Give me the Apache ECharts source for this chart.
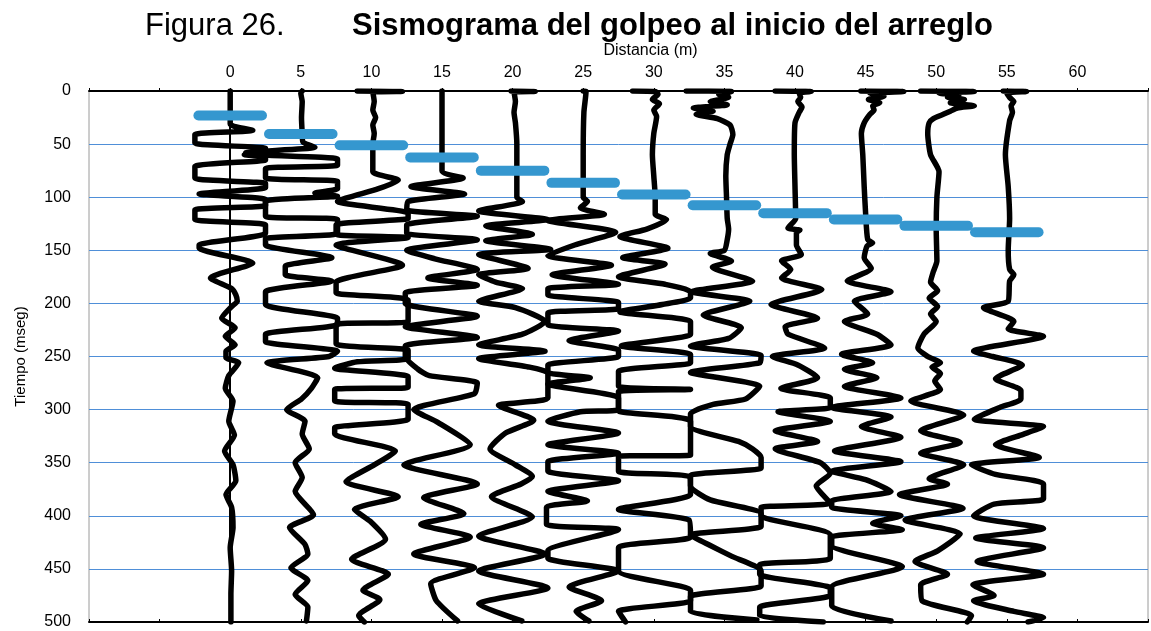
<!DOCTYPE html>
<html><head><meta charset="utf-8">
<script src="https://cdn.jsdelivr.net/npm/echarts@6/dist/echarts.min.js"></script>
<style>html,body{margin:0;padding:0;background:#fff}#c{width:1151px;height:631px}</style>
</head><body><div id="c"></div>
<script>
// Geophone positions (m) and first-break picks (ms)
const distances = [0, 5, 10, 15, 20, 25, 30, 35, 40, 45, 50, 55];
const pickTimes = [23, 40.5, 51, 62.5, 75, 86.5, 97.5, 107.5, 115, 121, 127, 133];
const timeTicks = [0, 50, 100, 150, 200, 250, 300, 350, 400, 450, 500];

// Each trace: [time (ms), amplitude offset (m) from its geophone position]
const tr0 = [[0,0],[31,0],[37,1.6],[41,-2.5],[49,-2.5],[54,2.5],[58,2.5],[60,1.0],[62,2.5],[65,2.5],[71,-2.5],[82,-2.5],[87,2.5],[91,2.5],[97,-2.2],[102,2.5],[108,2.5],[112,-2.5],[121,-2.5],[126,2.5],[134,2.5],[145,-2.2],[148,-2.2],[162,1.6],[176,-1.4],[186,0.1],[192,0.4],[198,0.5],[203,0.1],[214,-0.6],[223,0.35],[231,-0.35],[239,0.35],[245,-0.3],[251,-0.3],[256,0.6],[268,-0.1],[280,-0.35],[292,0.2],[311,-0.1],[324,0.3],[339,-0.4],[352,0.2],[367,0.4],[380,-0.3],[392,0.1],[411,0.2],[430,0],[452,0.1],[474,0.05],[500,0.05]];
const tr5 = [[0,0.1],[2,0],[10,0.1],[25,0.05],[40,0.1],[48,0.15],[53,1.0],[58,-3.9],[60,-3.0],[64,2.6],[70,2.6],[73,-2.5],[82,-2.5],[85,2.6],[92,2.6],[96,1.0],[99,2.6],[104,-2.5],[118,-2.5],[121,2.6],[134,2.6],[139,-2.5],[145,-2.5],[157,2.2],[165,-1.1],[173,-1.1],[179,2.2],[189,-2.5],[201,-2.5],[214,2.6],[220,2.6],[229,-2.5],[236,-2.5],[245,2.6],[250,2.0],[256,-2.4],[270,1.2],[280,0.75],[290,0.05],[300,-1.0],[311,0.3],[323,0.1],[337,0.6],[350,-0.4],[364,0.1],[377,-0.4],[399,0.9],[411,-0.8],[427,0.3],[436,0.5],[449,-0.7],[461,0.5],[474,-0.4],[486,0.5],[499,0.4]];
const tr10 = [[0,-1.0],[0.5,2.2],[1,0.1],[10,0.2],[18,0.1],[25,0.3],[32,0.1],[40,0.2],[50,0.1],[60,0.1],[76,0.1],[84,1.9],[92,0.5],[104,-2.4],[115,2.6],[120,2.6],[126,-2.5],[135,-2.5],[138,2.6],[145,-2.5],[164,2.2],[180,-2.5],[190,-2.5],[197,2.6],[217,2.6],[220,-2.5],[238,-2.5],[244,2.6],[252,2.6],[255,-1.0],[261,-2.6],[269,2.6],[279,2.6],[281,-2.6],[292,-2.6],[295,2.6],[309,2.6],[317,-2.6],[323,-2.6],[339,1.7],[352,0.2],[368,-1.8],[382,1.9],[394,-1.2],[405,-0.1],[422,1.0],[441,-1.4],[455,1.2],[470,-0.6],[479,0.6],[494,-0.9],[500,-0.5]];
const tr15 = [[0,0],[75,0],[82,1.5],[90,-2.2],[97,1.6],[104,-2.4],[112,-2.5],[118,2.5],[126,-2.5],[134,-2.5],[140,2.5],[150,-2.5],[158,-0.5],[168,2.5],[176,-1.0],[183,2.5],[190,-2.6],[200,-2.6],[212,2.5],[222,-2.6],[232,2.5],[240,-2.6],[250,-2.6],[262,-1.7],[268,-0.9],[275,2.5],[285,2.3],[300,-2.0],[312,-0.3],[333,2.0],[352,-2.7],[370,2.5],[383,-1.3],[398,1.55],[408,-1.5],[420,2.0],[436,-2.0],[449,2.3],[464,-0.8],[480,-0.4],[499,1.1]];
const tr20 = [[0,-0.1],[0.5,1.6],[1,0.1],[10,0.2],[20,0.1],[30,0.2],[50,0.3],[70,0.3],[90,0.3],[100,0.3],[104,0.7],[113,-2.4],[121,2.5],[127,-1.9],[135,1.4],[141,-1.9],[149,2.7],[154,-2.4],[167,1.1],[173,-2.4],[180,-1.2],[186,0.7],[198,-2.4],[204,0.2],[217,2.3],[229,0.7],[239,-2.4],[245,2.3],[252,-2.4],[260,1.2],[266,2.5],[289,2.5],[296,-1.0],[310,1.5],[322,-0.5],[337,-1.6],[352,0.2],[363,1.4],[370,0.6],[382,-1.5],[401,1.4],[419,-2.4],[436,2.3],[452,-2.4],[468,2.5],[483,-2.4],[499,0.65]];
const tr25 = [[0,0],[0.5,0.2],[20,0.05],[60,0],[100,0],[104,0.3],[110,-0.2],[116,1.5],[122,-2.5],[133,2.3],[145,-0.6],[155,-2.5],[164,2.0],[173,-2.2],[182,2.5],[186,-2.5],[192,-2.5],[199,2.5],[205,2.5],[209,-2.5],[220,-2.5],[226,2.5],[235,-1.0],[244,2.5],[250,2.5],[258,-2.5],[265,-2.5],[270,0.5],[276,-2.5],[289,2.5],[300,2.5],[302,-0.2],[311,-2.5],[322,2.5],[333,-2.5],[341,2.5],[349,-2.5],[358,-2.5],[367,2.5],[377,-2.5],[386,0.3],[392,-2.6],[408,-2.6],[413,2.5],[433,-2.5],[440,-2.5],[452,2.5],[467,-1.0],[480,1.3],[490,-0.5],[499,0.4]];
const tr30 = [[0,-1.5],[0.5,0.1],[3,0.3],[8,-0.1],[12,0.4],[18,0],[24,0.2],[40,0],[60,-0.1],[80,0],[100,0.1],[116,0.1],[121,0.9],[130,-0.5],[137,-2.4],[148,1.0],[157,-2.2],[163,0.8],[175,-2.5],[182,0.8],[189,2.6],[195,2.6],[201,0.6],[208,-2.4],[217,2.6],[229,2.6],[240,-2.3],[248,2.6],[256,2.6],[264,-2.5],[278,-2.5],[281,2.6],[283,-2.5],[291,-2.5],[301,-2.5],[311,2.6],[343,2.6],[344,-2.5],[358,-2.5],[363,2.5],[380,2.6],[394,-2.5],[404,2.5],[420,2.6],[430,-2.5],[452,-2.5],[470,2.6],[480,2.6],[490,-2.5],[500,-2.0]];
const tr35 = [[0,-2.7],[0.5,0.5],[3,-0.4],[6,0.3],[10,-1.0],[13,0.2],[16,-2.2],[19,-0.8],[22,-2.0],[26,-0.5],[32,0.4],[41,0.6],[50,0.4],[60,0.2],[80,0.1],[100,0.15],[120,0.2],[130,0.3],[140,0.2],[150,0],[153,-1.0],[160,0.5],[166,-0.85],[179,2.0],[189,-2.3],[198,1.8],[211,-1.5],[223,1.2],[233,0.3],[240,-2.4],[249,2.6],[256,2.5],[265,-2.4],[278,2.5],[290,1.5],[295,-0.8],[304,-2.4],[316,-2.4],[330,1.0],[337,2.0],[345,2.6],[355,2.6],[362,-2.4],[372,-2.4],[385,-1.0],[398,2.6],[410,2.6],[418,-2.4],[428,-1.0],[438,0.5],[452,2.6],[466,2.6],[476,-2.4],[490,-2.4],[498,2.3]];
const tr40 = [[0,-1.4],[0.5,1.15],[2,0.3],[6,0.4],[10,0.2],[15,0.5],[20,0.3],[30,0],[60,-0.05],[90,0],[120,0.05],[129,-0.5],[131,0.35],[133,0.1],[145,0.1],[154,0.45],[160,-0.95],[168,-0.3],[176,-0.95],[187,1.9],[201,-1.7],[214,1.6],[222,-0.7],[229,-0.5],[242,2.1],[250,-1.6],[258,0.2],[270,1.6],[280,-1.0],[289,2.5],[298,2.5],[302,-1.2],[311,2.5],[320,-1.4],[330,1.6],[337,-1.4],[350,1.8],[360,2.5],[372,1.5],[388,2.5],[392,-2.4],[400,-2.4],[418,2.5],[440,2.5],[446,-2.5],[455,-2.5],[468,2.5],[475,2.5],[486,-2.5],[494,-2.5],[500,2.0]];
const tr45 = [[0,-0.33],[0.5,2.7],[2,0.3],[5,1.3],[8,0.2],[11,1.0],[14,0.5],[18,0.6],[22,0.3],[30,-0.1],[40,-0.3],[60,-0.2],[90,-0.1],[115,0],[140,0.15],[143,0.5],[146,0.1],[157,-0.1],[167,0.4],[179,-1.3],[189,1.8],[198,-0.8],[210,0.15],[217,-1.5],[229,0.8],[239,1.8],[248,-1.7],[256,0.5],[262,-1.5],[270,0.8],[278,-1.5],[289,2.5],[298,-2.4],[307,1.8],[316,-0.3],[326,2.5],[339,-2.2],[349,2.5],[358,-2.4],[366,0],[377,1.8],[386,-2.4],[392,-2.4],[400,2.5],[407,0.5],[413,2.6],[420,-2.4],[428,-2.4],[448,2.6],[467,-2.4],[485,-2.4],[499,1.8]];
const tr50 = [[0,-1.1],[0.5,2.7],[2,0.2],[4,1.6],[6,0.8],[8,2.0],[11,1.0],[14,2.7],[16,1.5],[19,1.0],[22,0.5],[26,-0.2],[30,-0.5],[40,-0.6],[60,-0.4],[76,0.2],[100,0.05],[130,0],[160,0.05],[170,-0.2],[180,-0.4],[188,0.1],[195,-0.5],[203,0.1],[210,-0.4],[217,0],[229,-0.87],[242,-1.3],[250,-0.6],[256,0.3],[260,-0.3],[266,0.3],[273,-0.1],[281,0.3],[292,-1.8],[305,1.95],[320,-1.1],[331,1.7],[341,-1.1],[352,1.95],[365,-0.5],[370,0.8],[380,-2.6],[393,1.9],[404,-2.2],[417,1.7],[433,0.1],[443,-1.5],[455,0.8],[465,-1.1],[480,-1.0],[494,2.5],[500,2.2]];
const tr55 = [[0,-0.25],[0.5,1.4],[2,0],[6,0.2],[10,0.5],[14,0.3],[20,0.4],[28,0.2],[60,-0.1],[90,0.1],[120,0.2],[150,0.1],[168,0.2],[173,0.5],[179,0.2],[198,0.1],[204,-1.65],[217,0.5],[224,0.1],[231,2.6],[245,-2.35],[250,-1.0],[258,1.1],[271,-0.8],[282,1.0],[290,1.0],[298,-0.5],[309,-2.3],[316,2.6],[324,1.0],[333,-0.8],[345,2.3],[352,-2.5],[361,-0.8],[370,2.6],[384,2.6],[389,-0.9],[400,-2.35],[412,2.6],[421,-2.2],[430,2.6],[443,-2.1],[455,2.6],[465,-2.4],[475,-0.9],[480,-2.35],[490,0.5],[496,2.6],[500,1.5]];

const traces = [tr0, tr5, tr10, tr15, tr20, tr25, tr30, tr35, tr40, tr45, tr50, tr55];
const pickHalfWidth = 2.25;

const chart = echarts.init(document.getElementById('c'), null, {renderer: 'canvas'});
const FONT = '"Liberation Sans", Arial, sans-serif';

const traceSeries = traces.map((tr, i) => ({
  type: 'line',
  name: 'traza ' + distances[i],
  data: tr.map(([t, a]) => [distances[i] + a, t]),
  symbol: 'none',
  smooth: 0.2,
  lineStyle: {color: '#000', width: 5.5, join: 'round', cap: 'round'},
  silent: true,
  animation: false,
  z: 2
}));
const pickSeries = pickTimes.map((t, i) => ({
  type: 'line',
  name: 'pick ' + distances[i],
  data: [[distances[i] - pickHalfWidth, t], [distances[i] + pickHalfWidth, t]],
  symbol: 'none',
  lineStyle: {color: '#3597cf', width: 10, cap: 'round'},
  silent: true,
  animation: false,
  z: 3
}));

chart.setOption({
  animation: false,
  backgroundColor: '#fff',
  grid: {left: 89, right: 2, top: 91, bottom: 9, show: true, borderColor: '#9a9a9a', borderWidth: 1},
  graphic: [
    {type: 'text', left: 145, top: 11, style: {text: 'Figura 26.', font: '31px ' + FONT, fill: '#000'}},
    {type: 'text', left: 352, top: 11, style: {text: 'Sismograma del golpeo al inicio del arreglo', font: 'bold 31px ' + FONT, fill: '#000'}}
  ],
  xAxis: [{
    type: 'value', position: 'top', min: -10, max: 65, interval: 5,
    name: 'Distancia (m)', nameLocation: 'middle', nameGap: 32,
    nameTextStyle: {fontFamily: FONT, fontSize: 16, color: '#000', padding: [0, 0, 0, 64]},
    axisLine: {lineStyle: {color: '#000', width: 2}},
    axisTick: {show: true, inside: false, length: 3, lineStyle: {color: '#000'}},
    axisLabel: {fontFamily: FONT, fontSize: 16, color: '#000', margin: 10,
      formatter: v => (v >= 0 && v <= 60) ? String(v) : ''},
    splitLine: {show: false}
  }, {
    type: 'value', position: 'bottom', min: -10, max: 65, interval: 5,
    axisLine: {lineStyle: {color: '#000', width: 2}},
    axisTick: {show: true, inside: true, length: 3, lineStyle: {color: '#000'}},
    axisLabel: {show: false},
    splitLine: {show: false}
  }],
  yAxis: {
    type: 'value', inverse: true, min: 0, max: 500, interval: 50,
    name: 'Tiempo (mseg)', nameLocation: 'middle', nameGap: 61,
    nameTextStyle: {fontFamily: FONT, fontSize: 15, color: '#000'},
    axisLine: {show: true, lineStyle: {color: '#000', width: 2}},
    axisTick: {show: false},
    axisLabel: {fontFamily: FONT, fontSize: 16, color: '#000', margin: 18},
    splitLine: {show: true, lineStyle: {color: '#4f8fd8', width: 1}}
  },
  series: traceSeries.concat(pickSeries)
});
</script>
</body></html>
